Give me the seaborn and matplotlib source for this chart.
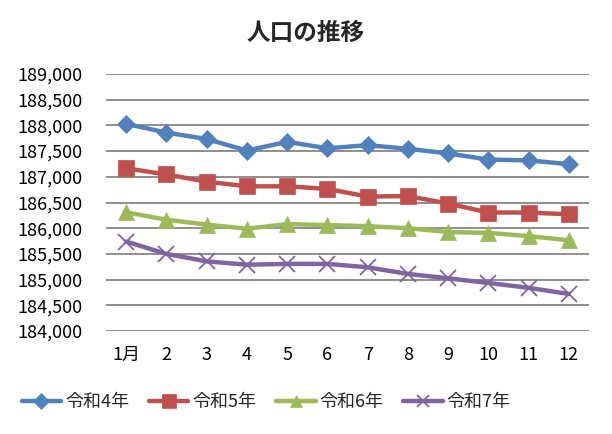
import pandas as pd
import matplotlib.pyplot as plt
import seaborn as sns
from matplotlib.ticker import FuncFormatter

## Data
months = list(range(1, 13))
month_labels = ["1月", "2", "3", "4", "5", "6", "7", "8", "9", "10", "11", "12"]
series_names = ["令和4年", "令和5年", "令和6年", "令和7年"]
r4 = [188030, 187860, 187735, 187510, 187680, 187555, 187615, 187545, 187455, 187335, 187320, 187245]
r5 = [187165, 187045, 186905, 186815, 186815, 186765, 186615, 186625, 186480, 186305, 186305, 186270]
r6 = [186310, 186165, 186070, 185990, 186080, 186060, 186040, 186000, 185925, 185910, 185845, 185765]
r7 = [185740, 185500, 185355, 185290, 185305, 185305, 185240, 185110, 185025, 184935, 184840, 184720]

colors = ["#4F81BD", "#C0504D", "#9BBB59", "#8064A2"]
markers = ["D", "s", "^", "x"]
msizes = [9, 12, 11, 11]

sns.set_theme(style="white")
plt.rcParams["font.family"] = ["Noto Sans CJK JP", "DejaVu Sans"]

fig = plt.figure(figsize=(6.12, 4.34), dpi=100)
ax = fig.add_axes([106 / 612, 103 / 434, 483 / 612, 257 / 434])

## Lines
for name, vals, c, m, ms in zip(series_names, [r4, r5, r6, r7], colors, markers, msizes):
    df = pd.DataFrame({"month": months, "value": vals})
    sns.lineplot(data=df, x="month", y="value", ax=ax, color=c, linewidth=3.2,
                 marker=m, markersize=ms, markeredgecolor=c,
                 markeredgewidth=1.3 if m == "x" else 0.5, label=name)

ax.set_xlim(0.5, 12.5)
ax.set_ylim(184000, 189000)
ax.set_yticks(range(184000, 189001, 500))
ax.yaxis.set_major_formatter(FuncFormatter(lambda v, p: f"{int(v):,}"))
ax.set_xticks(months)
ax.set_xticklabels(month_labels)
ax.grid(axis="y", color="#868686", linewidth=1.3)
ax.set_axisbelow(True)
for s in ax.spines.values():
    s.set_visible(False)
ax.tick_params(axis="y", length=0, pad=17, labelsize=13, colors="black")
ax.tick_params(axis="x", length=0, pad=11, labelsize=13, colors="black")
ax.set_xlabel("")
ax.set_ylabel("")

fig.suptitle("人口の推移", x=306 / 612, y=1 - 33 / 434, va="center",
             fontsize=17, fontweight="bold")

handles, labels = ax.get_legend_handles_labels()
ax.legend_.remove()
fig.legend(handles, labels, loc="center", bbox_to_anchor=(266 / 612, 1 - 402 / 434),
           ncol=4, frameon=False, fontsize=13, handlelength=2.2,
           handletextpad=0.2, columnspacing=1.1, markerscale=0.85)

plt.savefig("out.png", dpi=100)
